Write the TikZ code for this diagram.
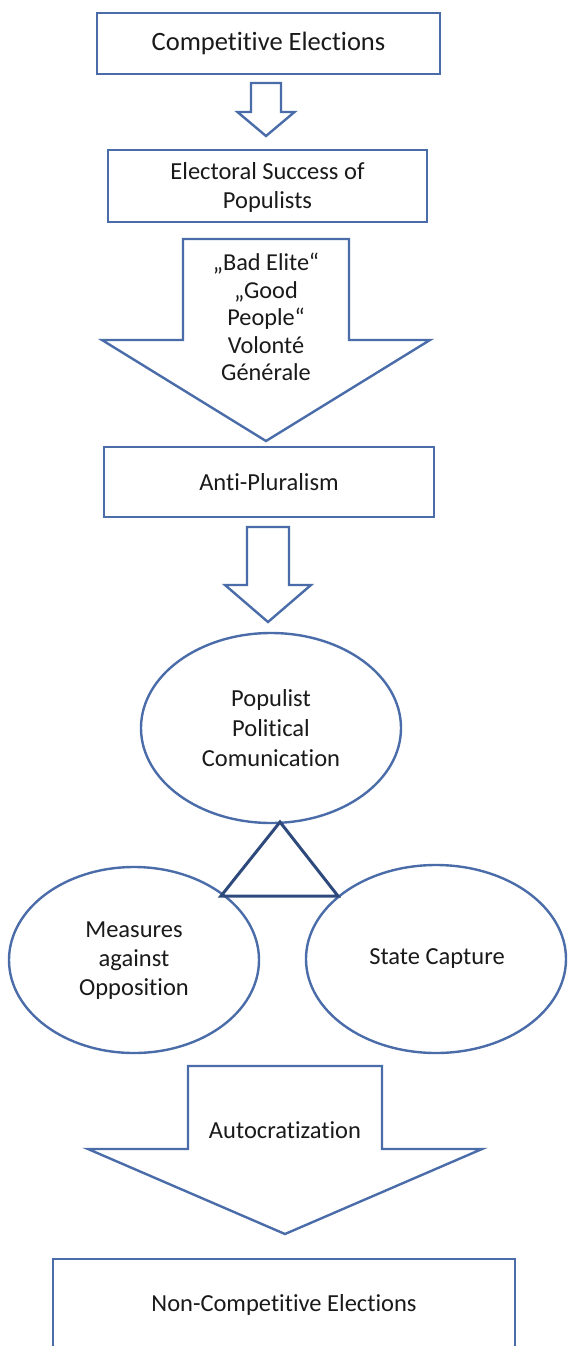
\documentclass[tikz,border=0pt]{standalone}
\usepackage{fontspec}
\setmainfont{Carlito}[Ligatures=NoCommon]
\usetikzlibrary{shapes.geometric}

\definecolor{edgeblue}{HTML}{4A6DAA}
\definecolor{triblue}{HTML}{2E4A7C}
\definecolor{ink}{HTML}{1A1A1A}

% downward block arrow: centre x, top y, shaft half-width, shoulder y, head half-width, tip y
\newcommand{\blockarrowdown}[6]{%
  \draw[blockarrow] (#1-#3,#2) -- (#1+#3,#2) -- (#1+#3,#4) -- (#1+#5,#4)
    -- (#1,#6) -- (#1-#5,#4) -- (#1-#3,#4) -- cycle;}

\tikzset{
  outline/.style={draw=edgeblue, line width=2.4pt, fill=white},
  blockarrow/.style={outline, line join=miter},
  label/.style={text=ink, align=center, inner sep=0pt, font=\fontsize{24.5}{29.8}\selectfont},
  boxnode/.style={outline, rectangle, inner sep=0pt},
  ovalnode/.style={outline, ellipse, inner sep=0pt},
}

\begin{document}
\begin{tikzpicture}[x=1pt, y=-1pt]
\useasboundingbox (0,0) rectangle (569,1346);
\clip (0,0) rectangle (569,1346);
\fill[white] (0,0) rectangle (569,1346);

% boxes
\node[boxnode, minimum width=343pt, minimum height=61pt] (comp) at (268.5,43.5) {};
\node[label, font=\fontsize{26.5}{32}\selectfont] (compT) at (268.5,43) {Competitive Elections};

\blockarrowdown{266}{83}{15}{112}{28.5}{136}

\node[boxnode, minimum width=319pt, minimum height=72pt] (succ) at (267.5,186) {};
\node[label] (succT) at (267.5,187.5) {Electoral Success of\\Populists};

\blockarrowdown{266}{239}{83}{340}{164}{441}
\node[label, font=\fontsize{24.3}{27.5}\selectfont] (frame) at (266,317) {„Bad Elite“\\„Good\\People“\\Volonté\\Générale};

\node[boxnode, minimum width=330pt, minimum height=70pt] (anti) at (269,482) {};
\node[label] (antiT) at (269,482) {Anti-Pluralism};

\blockarrowdown{268}{527}{21}{585}{43}{622}

% ellipses
\node[ovalnode, minimum width=260pt, minimum height=190pt] (comm) at (271,728) {};
\node[label] (commT) at (271,728) {Populist\\Political\\Comunication};

\node[ovalnode, minimum width=250pt, minimum height=186pt] (meas) at (134,960) {};
\node[label, font=\fontsize{24.5}{29}\selectfont] (measT) at (134,961) {Measures\\against\\Opposition};

\node[ovalnode, minimum width=260pt, minimum height=188pt] (capt) at (436,959) {};
\node[label] (captT) at (437,959) {State Capture};

% triangle linking the three ellipses
\coordinate (apex) at (280,822);
\coordinate (baseL) at (221,896);
\coordinate (baseR) at (338,896);
\draw[triblue, line width=3pt, line join=miter] (apex) -- (baseR) -- (baseL) -- cycle;

\blockarrowdown{285}{1066}{97}{1149}{197}{1234}
\node[label] (autoT) at (285,1130) {Autocratization};

\node[boxnode, minimum width=462pt, minimum height=101pt] (noncomp) at (284,1309.5) {};
\node[label] (noncompT) at (284,1305) {Non-Competitive Elections};
\end{tikzpicture}
\end{document}
